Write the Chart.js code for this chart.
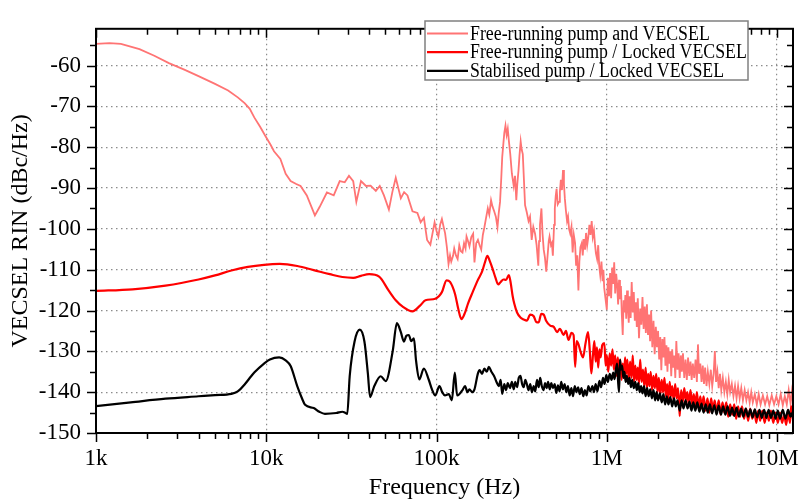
<!DOCTYPE html>
<html>
<head>
<meta charset="utf-8">
<script src="https://cdn.jsdelivr.net/npm/chart.js@4.4.1/dist/chart.umd.min.js"></script>
<style>
html, body { margin: 0; padding: 0; background: #fff; }
#wrap { width: 811px; height: 504px; }
</style>
</head>
<body>
<div id="wrap"><canvas id="rin-chart"></canvas></div>
<script>
// [frequency in kHz, RIN in dBc/Hz]
const freeRunning = [
    [1, -54.7], [1.2, -54.5], [1.4, -54.7], [1.8, -56.0], [2.2, -57.6], [2.68, -59.4], [3.3, -61.0],
    [4.0, -62.6], [5.0, -64.5], [5.97, -66.1], [6.8, -67.8], [7.46, -69.2], [8.0, -70.6], [8.5, -72.7],
    [9.2, -75.0], [9.9, -77.3], [10.6, -79.4], [11.1, -81.0], [12.1, -82.9], [13.0, -86.5], [13.9, -88.3],
    [15.0, -89.0], [15.9, -89.5], [17.3, -91.8], [18.5, -94.8], [19.3, -96.7], [20.6, -94.6], [22.7, -91.1],
    [24.9, -91.8], [27.0, -88.3], [28.9, -88.6], [30.6, -87.0], [32.4, -88.3], [33.8, -93.4], [36.0, -88.3],
    [38.5, -89.5], [41.0, -89.4], [44.0, -90.7], [46.4, -89.5], [49.1, -91.8], [52.5, -95.3], [55.0, -91.0],
    [57.6, -87.5], [61.7, -92.5], [64.5, -91.0], [67.5, -91.8], [72.2, -95.7], [77.2, -96.1], [80.7, -98.4],
    [84.3, -97.3], [88.0, -102.7], [92.0, -103.9], [97.4, -98.4], [100, -100.5], [102.5, -101.9],
    [105, -99.0], [107.5, -97.6], [110, -99.5], [112.3, -101.1], [115, -104.5], [117.6, -108.6],
    [120, -106.5], [122, -108.0], [125, -106.6], [127, -104.8], [130, -106.5], [133, -107.4], [136, -104.0],
    [139, -105.5], [142, -105.8], [145, -103.5], [148, -104.8], [150, -101.9], [153, -103.0], [156, -104.3],
    [160, -102.0], [164, -101.2], [167, -108.2], [171, -103.5], [175, -102.7], [179, -104.0], [183, -105.1],
    [187, -101.5], [191, -99.6], [195, -97.5], [200, -95.0], [204, -96.5], [209, -93.0], [213, -94.5],
    [218, -95.7], [223, -97.0], [228, -99.6], [232, -96.0], [236, -93.4], [240, -87.5], [243, -82.5],
    [247, -79.0], [250, -76.5], [254, -74.7], [258, -77.0], [262, -75.5], [266, -78.5], [271, -81.7],
    [277, -86.5], [284, -89.5], [289, -87.0], [294, -93.0], [298, -89.0], [303, -85.6], [307, -82.0],
    [312, -78.6], [316, -80.5], [321, -81.7], [326, -88.0], [331, -94.2], [339, -96.0], [347, -98.1],
    [354, -97.0], [362, -102.7], [370, -99.5], [379, -101.2], [387, -104.0], [396, -109.0], [400, -103.0],
    [405, -99.0], [409, -97.0], [413, -95.0], [419, -101.0], [426, -105.1], [433, -107.0], [441, -110.5],
    [450, -106.0], [456, -103.0], [461, -101.9], [470, -104.0], [476, -103.5], [482, -106.6], [490, -99.0],
    [495, -95.0], [501, -92.0], [507, -90.2], [515, -94.0], [524, -93.4], [530, -91.0], [537, -88.0],
    [545, -90.5], [553, -85.6], [560, -89.0], [567, -92.6], [575, -95.5], [584, -98.1], [592, -97.0],
    [600, -100.0], [610, -101.2], [620, -99.5], [630, -105.8], [640, -101.5], [651, -103.5], [660, -109.0],
    [670, -106.5], [681, -115.1], [690, -108.0], [700, -104.5], [713, -103.5], [722, -106.5], [733, -102.5],
    [745, -105.1], [755, -101.0], [767, -104.0], [779, -101.9], [790, -99.0], [802, -101.5], [815, -98.1],
    [827, -102.0], [840, -100.5], [851, -103.5], [863, -106.0], [877, -107.4], [890, -104.0], [902, -109.0],
    [915, -111.3], [930, -108.0], [944, -112.8], [955, -110.0], [965, -114.4],
    [1000, -119.8], [1015, -112.0], [1030, -116.5], [1045, -110.8], [1060, -117.0], [1075, -109.5],
    [1090, -113.5], [1105, -108.2], [1120, -115.8], [1135, -111.0], [1150, -113.6], [1165, -118.5],
    [1180, -112.5], [1195, -117.2], [1210, -114.0], [1225, -121.0], [1240, -126.0], [1255, -117.5],
    [1270, -120.5], [1285, -116.2], [1300, -122.0], [1315, -115.1], [1330, -119.0], [1345, -123.0],
    [1360, -116.5], [1380, -121.8], [1400, -113.0], [1420, -120.5], [1440, -115.5], [1460, -122.5],
    [1480, -118.0], [1500, -124.0], [1520, -117.0], [1545, -126.8], [1570, -119.5], [1595, -123.5],
    [1620, -116.7], [1645, -124.5], [1670, -119.0], [1695, -125.5], [1720, -118.5], [1745, -126.0],
    [1770, -121.0], [1795, -127.5], [1820, -120.0], [1850, -129.0], [1880, -122.5], [1910, -130.7],
    [1940, -124.0], [1970, -129.0], [2000, -125.0], [2030, -132.0], [2060, -126.5], [2090, -134.6],
    [2120, -127.0], [2150, -131.5], [2180, -126.5], [2210, -133.5], [2240, -128.5], [2270, -135.0],
    [2300, -129.0], [2330, -133.0], [2360, -130.0], [2390, -136.1], [2420, -129.5], [2455, -134.0],
    [2490, -131.0], [2525, -136.5], [2560, -127.5], [2600, -134.5], [2640, -130.5], [2680, -136.5],
    [2720, -131.0], [2760, -135.0], [2800, -130.5], [2850, -136.5], [2900, -132.0], [2950, -137.0],
    [3000, -131.5], [3050, -136.0], [3100, -132.5], [3150, -137.0], [3200, -133.0], [3260, -136.5],
    [3320, -132.0], [3380, -137.5], [3430, -128.3], [3480, -135.5], [3540, -133.0], [3600, -137.5],
    [3660, -133.5], [3720, -138.0], [3780, -134.0], [3850, -138.5], [3920, -135.0], [4000, -138.0],
    [4080, -134.5], [4160, -138.5], [4240, -135.5], [4310, -129.9], [4380, -137.5], [4460, -135.0],
    [4540, -139.0], [4620, -135.5], [4700, -139.5], [4800, -136.5], [4900, -140.0], [5000, -137.5],
    [5100, -140.5], [5200, -137.0], [5300, -140.0], [5420, -138.0], [5540, -141.0], [5660, -138.5],
    [5780, -141.5], [5900, -138.5], [6030, -141.5], [6160, -139.0], [6300, -142.0], [6450, -139.5],
    [6600, -142.0], [6750, -140.0], [6900, -142.5], [7050, -140.0], [7200, -142.5], [7400, -140.5],
    [7600, -143.0], [7800, -140.5], [8000, -143.0], [8250, -140.8], [8500, -143.0], [8750, -141.0],
    [9000, -143.2], [9300, -140.8], [9600, -143.0], [9900, -141.0], [10200, -143.0], [10500, -140.5],
    [10800, -143.2], [11100, -141.0], [11400, -143.0], [11700, -139.5], [12000, -142.8], [12200, -140.0],
    [12400, -142.5]
];

const lockedVecsel = [
    [1, -115.2], [1.64, -114.8], [2.56, -113.9], [4.0, -112.4], [5.0, -111.4], [6.24, -110.2], [7.8, -109.3],
    [9.7, -108.8], [12.0, -108.6], [15.2, -109.1], [19.0, -110.1], [23.6, -111.1], [28, -111.8], [32.4, -112.0],
    [36, -111.5], [40.2, -111.1], [46.0, -111.7], [52.5, -115.2], [57.6, -117.5], [63, -119.0], [72.2, -120.2],
    [80, -118.8], [86.1, -117.5], [98.3, -117.1], [107.5, -115.5], [114.5, -112.6], [120, -113.0],
    [128.5, -116.0], [134, -119.5], [140, -122.1], [147, -120.5], [153, -118.3], [163, -115.5], [175, -112.5],
    [185, -110.5], [193, -108.0], [199, -106.6], [205, -107.8], [213, -109.7], [222, -112.0], [230, -113.6],
    [238, -113.0], [247, -112.4], [256, -112.5], [266, -111.3], [272, -113.0], [280, -116.5], [286, -118.3],
    [297, -120.5], [311, -121.7], [325, -122.2], [339, -122.5], [355, -121.0], [372, -121.4], [385, -122.8],
    [398, -122.9], [412, -120.8], [426, -121.0], [440, -122.5], [465, -123.7], [488, -124.0], [510, -125.3],
    [530, -124.5], [558, -126.0], [575, -125.0], [596, -127.2], [620, -125.5], [638, -126.0], [652, -133.8],
    [665, -127.5], [682, -128.3], [700, -130.0], [725, -131.5], [750, -128.0], [776, -125.3], [795, -130.0],
    [811, -135.4], [830, -130.7], [845, -127.5], [860, -132.5], [875, -129.0], [890, -134.0], [905, -129.5],
    [920, -131.5], [940, -128.5], [967, -128.0], [985, -133.5], [1000, -131.0], [1020, -135.0],
    [1040, -130.5], [1060, -133.5], [1080, -129.5], [1100, -134.5], [1120, -131.0], [1140, -136.0],
    [1160, -131.5], [1180, -135.5], [1200, -132.0], [1220, -137.0], [1240, -133.0], [1260, -136.5],
    [1280, -131.5], [1300, -135.5], [1320, -132.0], [1345, -137.0], [1370, -132.5], [1395, -136.5],
    [1420, -131.0], [1445, -137.5], [1470, -133.5], [1495, -137.0], [1520, -134.0], [1545, -138.0],
    [1570, -132.0], [1600, -137.5], [1630, -134.5], [1660, -138.5], [1690, -134.0], [1720, -139.0],
    [1750, -135.5], [1780, -138.5], [1810, -135.0], [1845, -139.5], [1880, -136.0], [1915, -139.0],
    [1950, -135.5], [1985, -140.0], [2020, -136.5], [2060, -140.5], [2100, -137.0], [2140, -140.0],
    [2180, -136.5], [2220, -141.0], [2260, -138.0], [2300, -141.5], [2340, -137.5], [2380, -141.0],
    [2420, -138.5], [2470, -142.0], [2520, -138.0], [2570, -141.5], [2620, -139.0], [2680, -145.9],
    [2730, -139.5], [2790, -142.5], [2850, -139.0], [2910, -142.0], [2970, -140.0], [3030, -143.0],
    [3100, -139.5], [3170, -143.0], [3240, -140.5], [3310, -143.5], [3380, -140.0], [3460, -144.0],
    [3540, -141.0], [3620, -144.0], [3700, -141.0], [3800, -144.5], [3900, -141.5], [4000, -145.0],
    [4100, -141.5], [4200, -144.5], [4300, -142.0], [4420, -145.0], [4540, -142.0], [4660, -145.5],
    [4780, -142.5], [4900, -145.0], [5030, -142.5], [5160, -146.0], [5300, -143.0], [5450, -145.5],
    [5600, -143.0], [5750, -146.5], [5900, -143.5], [6060, -146.0], [6220, -143.5], [6400, -146.5],
    [6580, -144.0], [6760, -147.0], [6950, -144.0], [7150, -146.5], [7350, -144.5], [7550, -147.5],
    [7750, -144.5], [7950, -147.0], [8200, -144.5], [8450, -147.5], [8700, -145.0], [8950, -147.0],
    [9200, -144.5], [9500, -147.5], [9800, -145.0], [10100, -147.5], [10400, -145.0], [10700, -147.5],
    [11000, -145.5], [11300, -148.0], [11600, -145.0], [11900, -147.5], [12100, -143.5], [12400, -146.5]
];

const stabilisedPump = [
    [1, -143.4], [1.6, -142.5], [2.56, -141.6], [4.0, -141.0], [5.0, -140.7], [6.24, -140.4], [6.8, -139.8],
    [7.5, -138.0], [8.15, -136.1], [8.5, -135.2], [9.7, -133.0], [10.5, -132.0], [11.9, -131.5], [13.0, -132.2],
    [13.9, -133.6], [15.2, -138.5], [16.2, -141.5], [16.9, -143.1], [19.0, -143.9], [20.5, -144.8],
    [22.1, -145.3], [25.8, -145.1], [28.0, -144.8], [28.9, -145.0], [29.9, -145.3], [30.9, -136.1],
    [33.0, -127.6], [35.4, -124.7], [37.7, -127.6], [39.5, -135.4], [40.7, -141.2], [43.1, -138.5],
    [47.0, -136.1], [50.3, -137.3], [55.3, -129.9], [58.5, -123.1], [61.7, -125.3], [64.3, -127.6],
    [66.5, -126.2], [68.7, -126.0], [71, -127.5], [73.6, -126.8], [75.8, -132.3], [79.2, -136.9],
    [84.2, -134.2], [89.9, -136.9], [94, -139.3], [98.3, -140.8], [104, -138.5], [108, -140.0], [112, -140.8],
    [118, -140.5], [123, -142.0], [128, -135.2], [132, -140.8], [136, -140.5], [142, -139.5], [147, -138.5],
    [152, -140.0], [156, -139.3], [162, -140.0], [167, -139.3], [175, -135.4], [179, -134.6], [185, -135.5],
    [191, -134.2], [197, -135.0], [203, -133.8], [210, -135.0], [218, -136.1], [225, -137.5], [232, -138.5],
    [238, -137.0], [243, -140.4], [250, -138.0], [256, -139.5], [262, -137.8], [270, -139.0], [277, -137.5],
    [284, -139.3], [290, -137.5], [297, -138.8], [304, -136.5], [311, -136.0], [318, -138.0], [325, -138.8],
    [332, -137.0], [339, -138.0], [347, -139.5], [355, -138.0], [363, -140.0], [372, -138.5], [380, -139.8],
    [389, -137.0], [398, -138.8], [406, -136.5], [415, -138.5], [425, -139.5], [434, -137.8], [443, -139.0],
    [452, -137.5], [462, -139.3], [472, -137.8], [483, -139.0], [494, -138.0], [505, -140.2], [516, -138.3],
    [528, -139.8], [540, -137.5], [552, -139.3], [565, -138.0], [578, -140.0], [591, -138.5], [605, -140.8],
    [619, -139.0], [633, -141.0], [648, -138.5], [663, -140.0], [678, -138.8], [694, -140.5], [710, -139.0],
    [727, -141.0], [744, -139.5], [761, -140.8], [779, -138.5], [800, -139.8], [823, -138.5], [840, -140.0],
    [860, -138.0], [880, -139.8], [905, -137.2], [925, -138.8], [950, -136.5], [970, -138.0], [993, -135.8],
    [1015, -137.5], [1040, -135.5], [1065, -137.0], [1090, -135.2], [1110, -136.8], [1130, -134.5],
    [1150, -133.0], [1165, -137.5], [1180, -140.0], [1195, -132.0], [1210, -134.5], [1230, -133.5],
    [1250, -136.5], [1270, -135.0], [1290, -137.5], [1310, -136.0], [1335, -138.0], [1360, -136.5],
    [1385, -138.8], [1410, -137.0], [1440, -139.0], [1470, -137.5], [1500, -139.5], [1530, -137.8],
    [1560, -140.0], [1590, -138.5], [1620, -140.3], [1655, -138.5], [1690, -141.0], [1725, -139.0],
    [1760, -141.0], [1800, -139.3], [1840, -141.5], [1880, -139.5], [1920, -142.0], [1960, -140.0],
    [2000, -142.0], [2050, -140.3], [2100, -142.5], [2150, -140.5], [2200, -143.0], [2250, -141.0],
    [2300, -143.0], [2360, -141.2], [2420, -143.5], [2480, -141.5], [2540, -143.5], [2600, -142.0],
    [2680, -144.5], [2750, -142.0], [2820, -144.0], [2900, -142.0], [2980, -144.0], [3060, -142.3],
    [3140, -144.5], [3220, -142.5], [3310, -144.5], [3400, -142.5], [3500, -144.8], [3600, -142.8],
    [3700, -145.0], [3810, -143.0], [3920, -145.0], [4030, -143.0], [4150, -145.2], [4280, -143.2],
    [4410, -145.5], [4540, -143.3], [4680, -145.5], [4820, -143.5], [4970, -145.5], [5120, -143.5],
    [5280, -145.8], [5440, -143.8], [5600, -145.8], [5780, -143.8], [5960, -146.0], [6150, -144.0],
    [6340, -146.0], [6540, -144.0], [6750, -146.0], [6960, -144.2], [7180, -146.2], [7400, -144.2],
    [7640, -146.2], [7880, -144.3], [8130, -146.3], [8390, -144.3], [8650, -146.3], [8920, -144.3],
    [9200, -146.3], [9500, -144.5], [9800, -146.5], [10100, -144.5], [10400, -146.5], [10800, -144.3],
    [11200, -146.5], [11600, -144.3], [12000, -146.0], [12400, -144.8]
];

const seriesLabels = ['Free-running pump and VECSEL', 'Free-running pump / Locked VECSEL', 'Stabilised pump / Locked VECSEL'];
const seriesColors = ['#ff7474', '#ff0000', '#000000'];

const xTickValues = [1, 10, 100, 1000, 10000];
const xTickLabels = ['1k', '10k', '100k', '1M', '10M'];
const yTickValues = [-150, -140, -130, -120, -110, -100, -90, -80, -70, -60];

const X_MIN = 1, X_MAX = 12400;
const Y_MIN = -150, Y_MAX = -51;

const FONT = "'Liberation Serif', 'Times New Roman', serif";

// frame, tick marks (in and out) and the boxed legend
const framePlugin = {
    id: 'frame',
    afterDraw(chart) {
        const ctx = chart.ctx;
        const area = chart.chartArea;
        const xs = chart.scales.x;
        const ys = chart.scales.y;

        ctx.save();
        ctx.strokeStyle = '#000';
        ctx.lineWidth = 1.5;
        ctx.beginPath();

        // x ticks: decades and minor 2..9
        for (let d = 1; d <= 10000; d *= 10) {
            for (let k = 1; k <= 9; k++) {
                const v = d * k;
                if (v < X_MIN || v > X_MAX) continue;
                const px = Math.round(xs.getPixelForValue(v)) + 0.5;
                const len = k === 1 ? 9 : 6;
                ctx.moveTo(px, area.bottom);
                ctx.lineTo(px, area.bottom + len);
                ctx.moveTo(px, area.top);
                ctx.lineTo(px, area.top + len);
            }
        }
        // y ticks every 5
        for (let v = Y_MIN; v <= Y_MAX; v += 5) {
            const py = Math.round(ys.getPixelForValue(v)) + 0.5;
            const len = v % 10 === 0 ? 9 : 6;
            ctx.moveTo(area.left, py);
            ctx.lineTo(area.left - len, py);
            ctx.moveTo(area.right, py);
            ctx.lineTo(area.right - len, py);
        }
        ctx.stroke();

        ctx.lineWidth = 2;
        ctx.strokeRect(area.left, area.top, area.right - area.left, area.bottom - area.top);

        // legend
        const lx = 425, ly = 21, lw = 323, lh = 59;
        ctx.fillStyle = '#fff';
        ctx.fillRect(lx, ly, lw, lh);
        ctx.strokeStyle = '#808080';
        ctx.lineWidth = 1.5;
        ctx.strokeRect(lx, ly, lw, lh);
        ctx.font = '20px ' + FONT;
        ctx.textBaseline = 'middle';
        ctx.textAlign = 'left';
        chart.data.datasets.forEach((ds, i) => {
            const rowY = ly + 12.5 + i * 18.7;
            ctx.strokeStyle = ds.borderColor;
            ctx.lineWidth = ds.borderWidth;
            ctx.beginPath();
            ctx.moveTo(lx + 2, rowY);
            ctx.lineTo(lx + 43, rowY);
            ctx.stroke();
            ctx.save();
            ctx.translate(lx + 45, rowY + 1);
            ctx.scale(0.89, 1);
            ctx.fillStyle = '#000';
            ctx.fillText(ds.label, 0, 0);
            ctx.restore();
        });
        ctx.restore();
    }
};

const toPoints = rows => rows.map(r => ({ x: r[0], y: r[1] }));

Chart.defaults.font.family = FONT;
Chart.defaults.color = '#000';

new Chart(document.getElementById('rin-chart'), {
    type: 'line',
    data: {
        datasets: [
            { label: seriesLabels[0], data: toPoints(freeRunning), borderColor: seriesColors[0], borderWidth: 1.8, tension: 0, order: 2 },
            { label: seriesLabels[1], data: toPoints(lockedVecsel), borderColor: seriesColors[1], borderWidth: 2.2, cubicInterpolationMode: 'monotone', order: 1 },
            { label: seriesLabels[2], data: toPoints(stabilisedPump), borderColor: seriesColors[2], borderWidth: 2.2, cubicInterpolationMode: 'monotone', order: 0 }
        ]
    },
    options: {
        responsive: true,
        maintainAspectRatio: false,
        animation: false,
        layout: { padding: { left: 0, top: 8, right: 8, bottom: 0 } },
        elements: {
            point: { radius: 0 },
            line: { fill: false }
        },
        plugins: {
            legend: { display: false },
            tooltip: { enabled: false }
        },
        scales: {
            x: {
                type: 'logarithmic',
                min: X_MIN,
                max: X_MAX,
                afterBuildTicks: scale => { scale.ticks = xTickValues.map(v => ({ value: v })); },
                afterFit: scale => { scale.height = 71; },
                ticks: {
                    autoSkip: false,
                    maxRotation: 0,
                    padding: 12,
                    font: { size: 23 },
                    callback: (value, index) => xTickLabels[index]
                },
                grid: { color: '#8c8c8c', lineWidth: 1.2, drawTicks: false },
                border: { display: false, dash: [1.5, 3.5] },
                title: { display: true, text: 'Frequency (Hz)', font: { size: 24 }, padding: { top: 0, bottom: 2 } }
            },
            y: {
                type: 'linear',
                min: Y_MIN,
                max: Y_MAX,
                afterBuildTicks: scale => { scale.ticks = yTickValues.map(v => ({ value: v })); },
                afterFit: scale => { scale.width = 96; },
                ticks: {
                    padding: 15,
                    font: { size: 23 },
                    callback: value => String(value)
                },
                grid: { color: '#8c8c8c', lineWidth: 1.2, drawTicks: false },
                border: { display: false, dash: [1.5, 3.5] },
                title: { display: true, text: 'VECSEL RIN (dBc/Hz)', font: { size: 24 }, padding: { top: 6, bottom: 0 } }
            }
        }
    },
    plugins: [framePlugin]
});
</script>
</body>
</html>
